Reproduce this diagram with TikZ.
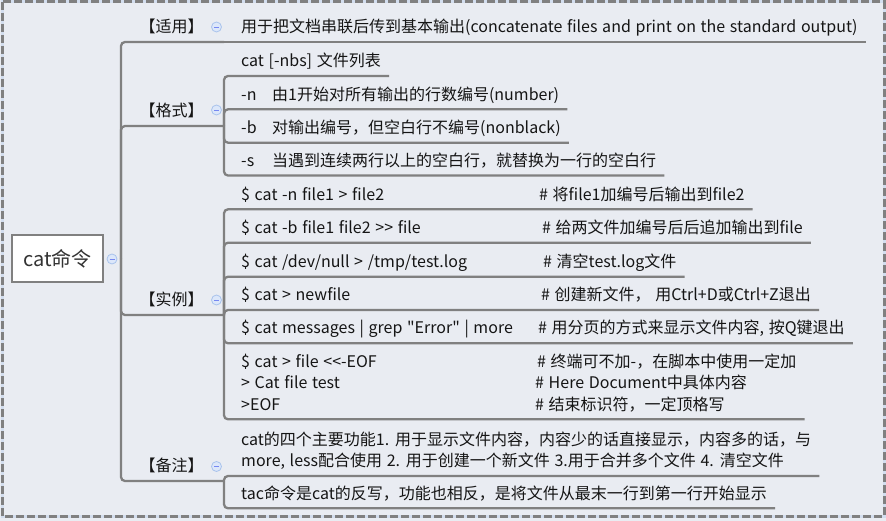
\documentclass[tikz,border=0pt]{standalone}
\usepackage{fontspec}
\setmainfont{Noto Sans CJK SC}[Ligatures=TeXOff,WordSpace=1.3]
\usepackage{tikz}
\usetikzlibrary{positioning}

\definecolor{bgcol}{HTML}{E9ECF2}
\definecolor{gapcol}{HTML}{D3DEEF}
\definecolor{linecol}{HTML}{808080}
\definecolor{txtcol}{HTML}{151515}
\definecolor{foldfill}{HTML}{DCE7FA}
\definecolor{folddraw}{HTML}{A9C3EC}

\newcommand{\lstrut}{\rule[-4pt]{0pt}{14pt}}
\newcommand{\cmdrow}[3][298pt]{\makebox[#1][l]{#2}#3}
\newcommand{\optrow}[2]{\makebox[31pt][l]{#1}#2}

\begin{document}
\begin{tikzpicture}
    [x=1pt,y=-1pt,
    font=\fontsize{16}{21.5}\selectfont,
    text=txtcol,
    root/.style={draw=linecol,line width=2pt,fill=white,minimum width=91pt,minimum height=47pt,font=\fontsize{20}{24}\selectfont,text=black!80},
    cat/.style={anchor=south west,inner xsep=18.5pt,inner ysep=5pt,execute at end node=\lstrut},
    leaf/.style={anchor=south west,inner xsep=8pt,inner ysep=5pt,align=left,execute at end node=\lstrut},
    fold/.style={circle,draw=folddraw,fill=foldfill,line width=0.8pt,minimum size=10pt,inner sep=0pt,
      path picture={\draw[folddraw!70!blue,line width=0.9pt] ([xshift=-2.5pt]path picture bounding box.center) -- ([xshift=2.5pt]path picture bounding box.center);}},
    branch/.style={draw=linecol,line width=2.3pt,rounded corners=4pt}]

    \useasboundingbox (0,0) rectangle (886,521);
    \fill[bgcol] (0,0) rectangle (886,521);
    \draw[gapcol,line width=3pt] (2,2) rectangle (884,516);
    \draw[linecol,line width=3pt,dash pattern=on 8pt off 3pt] (2,2) rectangle (884,516);

    % root
    \node[root] (root) at (57.5,259) {cat命令};
    \coordinate (root-j) at (121,259);

    % groups
    \node[cat] (use) at (121,42) {【适用】};
    \node[cat] (fmt) at (121,126) {【格式】};
    \node[cat] (ex) at (121,315) {【实例】};
    \node[cat] (note) at (121,481) {【备注】};
    \coordinate (use-j) at (224,42);
    \coordinate (fmt-j) at (224,126);
    \coordinate (ex-j) at (224,315);
    \coordinate (note-j) at (224,481);

    % leaves
    \node[leaf] (use1) at (233,42) {用于把文档串联后传到基本输出(concatenate files and print on the standard output)};

    \node[leaf] (fmt1) at (233,76) {cat [-nbs] 文件列表};
    \node[leaf] (fmt2) at (233,109.3) {\optrow{-n}{由1开始对所有输出的行数编号(number)}};
    \node[leaf] (fmt3) at (233,142.7) {\optrow{-b}{对输出编号，但空白行不编号(nonblack)}};
    \node[leaf] (fmt4) at (233,175.5) {\optrow{-s}{当遇到连续两行以上的空白行，就替换为一行的空白行}};

    \node[leaf] (ex1) at (233,209.3) {\cmdrow{\$ cat -n file1 > file2}{\# 将file1加编号后输出到file2}};
    \node[leaf] (ex2) at (233,242.7) {\cmdrow[301pt]{\$ cat -b file1 file2 >> file}{\# 给两文件加编号后后追加输出到file}};
    \node[leaf] (ex3) at (233,276.7) {\cmdrow[302pt]{\$ cat /dev/null > /tmp/test.log}{\# 清空test.log文件}};
    \node[leaf] (ex4) at (233,310) {\cmdrow[300pt]{\$ cat > newfile}{\# 创建新文件， 用Ctrl+D或Ctrl+Z退出}};
    \node[leaf] (ex5) at (233,343.3) {\cmdrow[297pt]{\$ cat messages | grep "Error" | more}{\# 用分页的方式来显示文件内容, 按Q键退出}};
    \node[leaf] (ex6) at (233,419.3) {\cmdrow[296pt]{\$ cat > file <<-EOF}{\# 终端可不加-，在脚本中使用一定加}\\
      \cmdrow[294pt]{> Cat file test}{\# Here Document中具体内容}\\
      \cmdrow[294pt]{>EOF}{\# 结束标识符，一定顶格写}};

    \node[leaf] (note1) at (233,476) {cat的四个主要功能1. 用于显示文件内容，内容少的话直接显示，内容多的话，与\\
      more, less配合使用 2. 用于创建一个新文件 3.用于合并多个文件 4. 清空文件};
    \node[leaf] (note2) at (233,508.3) {tac命令是cat的反写，功能也相反，是将文件从最末一行到第一行开始显示};

    % connectors
    \foreach \grp in {use,fmt,ex,note}
      \draw[branch] (root-j) |- (\grp-j);
    \draw[branch] (use-j) -- (use1.south east);
    \foreach \i in {1,...,4}
      \draw[branch] (fmt-j) |- (fmt\i.south east);
    \foreach \i in {1,...,6}
      \draw[branch] (ex-j) |- (ex\i.south east);
    \foreach \i in {1,2}
      \draw[branch] (note-j) |- (note\i.south east);

    % fold buttons
    \node[fold] (root-f) at (112,259) {};
    \node[fold] (use-f) at (216.5,27) {};
    \node[fold] (fmt-f) at (216.5,110) {};
    \node[fold] (ex-f) at (216.5,300) {};
    \node[fold] (note-f) at (216.5,466.5) {};

\end{tikzpicture}
\end{document}
